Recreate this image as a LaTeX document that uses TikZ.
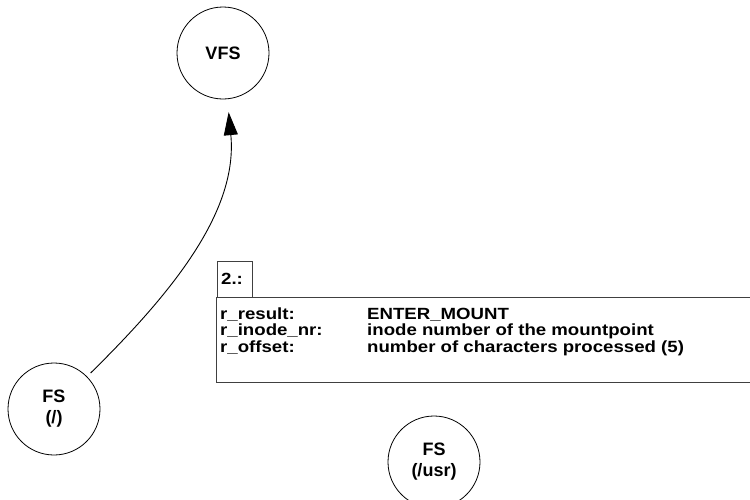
\documentclass[tikz,border=0pt]{standalone}
\usepackage{fontspec}
\setmainfont{Liberation Sans}
\newfontfamily\widesans[FakeStretch=1.15]{Liberation Sans}
\usetikzlibrary{arrows.meta}
\begin{document}
\begin{tikzpicture}[x=1pt,y=-1pt,
  state/.style={circle,draw,line width=0.8pt,minimum size=92pt,inner sep=0pt,align=center,
    font=\fontsize{18}{21}\selectfont\bfseries},
  frame/.style={draw=black!75,line width=1pt,inner sep=0pt},
  boxtext/.style={font=\widesans\fontsize{16.2}{16}\selectfont\bfseries,inner sep=0pt},
  flow/.style={line width=0.9pt,-{Triangle[length=23pt,width=14pt]}}]
\useasboundingbox (0,0) rectangle (750,499);
\node[state] (vfs) at (223,53) {VFS};
\node[state] (fsroot) at (54,409) {FS\\(/)};
\node[state] (fsusr) at (434,462) {FS\\(/usr)};
\node[frame,anchor=north west,minimum width=35pt,minimum height=36pt] (tab) at (217,261) {};
\node[boxtext,anchor=base west] (tablabel) at (221,284) {2.:};
\node[frame,anchor=north west,minimum width=570pt,minimum height=85pt] (panel) at (216,297) {};
\node[boxtext,anchor=base west] (rows) at (220,319) {%
  \begin{tabular}[t]{@{}p{147pt}@{}l@{}}
  r\_result: & ENTER\_MOUNT\\
  r\_inode\_nr: & inode number of the mountpoint\\
  r\_offset: & number of characters processed (5)
  \end{tabular}};
\coordinate (c1) at (175,290);
\coordinate (c2) at (238,210);
\draw[flow,shorten <=5pt,shorten >=13pt] (fsroot) .. controls (c1) and (c2) .. (vfs);
\end{tikzpicture}
\end{document}
